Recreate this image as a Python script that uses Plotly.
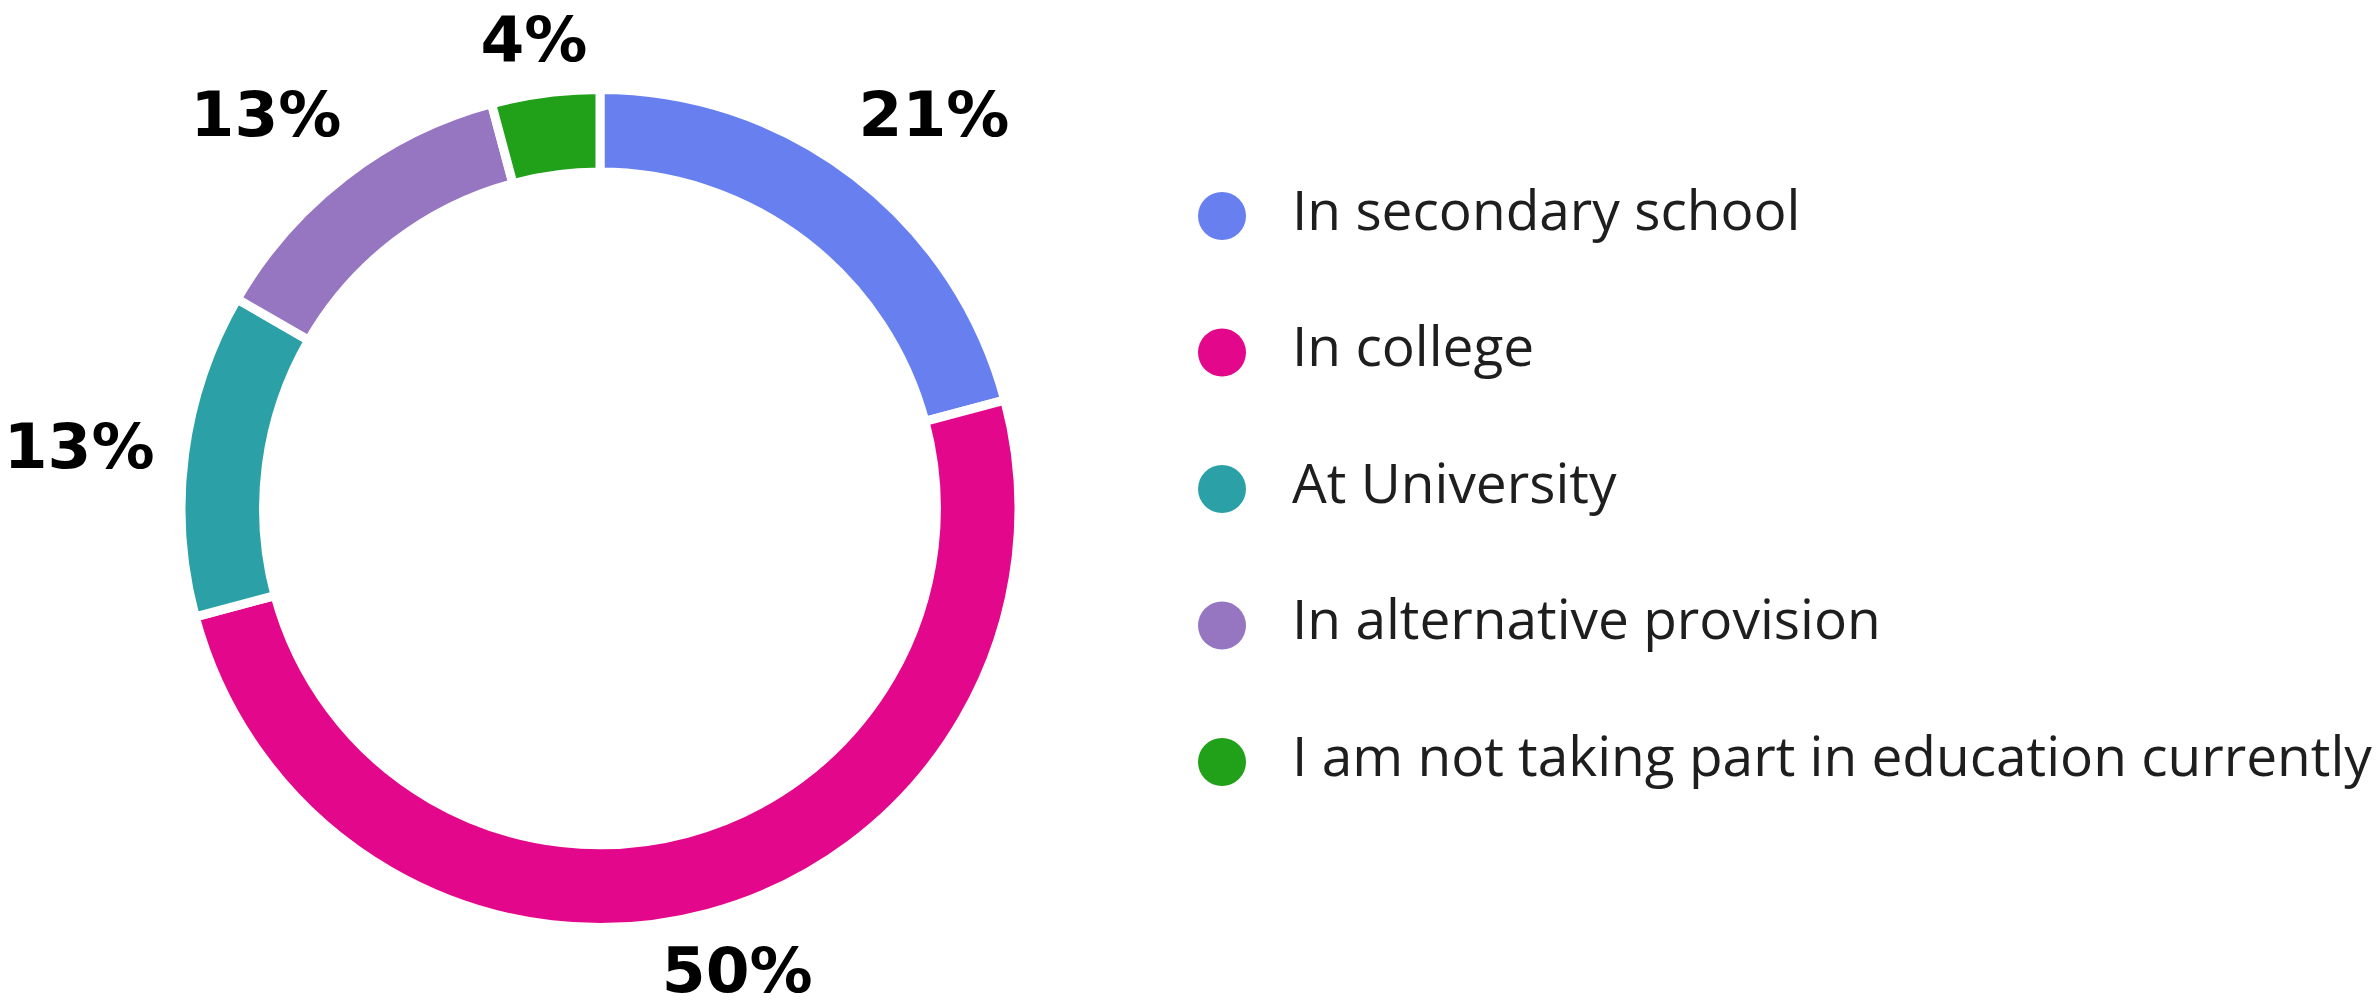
"""
Donut chart: current education status of respondents
"""

import math
import plotly.graph_objects as go

# Data
categories = [
    "In secondary school",
    "In college",
    "At University",
    "In alternative provision",
    "I am not taking part in education currently",
]
counts = [5, 12, 3, 3, 1]
colors = ["#6880EF", "#E3088B", "#2CA0A7", "#9676C1", "#21A019"]
rows = [0, 1, 2, 3, 4]

# Figure geometry (px)
W, H = 2380, 1005
cx, cy = 600, 508.5          # donut centre, measured from top-left
r_pie = 419                  # pie radius incl. white stroke
stroke = 9
r_vis = r_pie - stroke / 2   # visible outer edge

# Percent labels, rounded half up
total = sum(counts)
pct_text = [f"{int(100 * c / total + 0.5)}%" for c in counts]

# Label placement: outside the ring along each slice's bisector,
# pushed out by half the label box (more on the diagonals)
label_x, label_y = [], []
start = 0
for c, txt in zip(counts, pct_text):
    mid = math.radians((start + c / 2) / total * 360)
    start += c
    s, co = math.sin(mid), math.cos(mid)
    half_w = 19 + 19 * len(txt)
    half_h = 24
    gap = 33 + 27 * math.sin(2 * mid) ** 2
    label_x.append(cx + (r_vis + gap + half_w) * s)
    label_y.append(cy - (r_vis + gap + half_h) * co + 6)

fig = go.Figure()

# Donut
fig.add_trace(go.Pie(
    labels=categories,
    values=counts,
    sort=False,
    direction="clockwise",
    rotation=0,
    hole=0.803,
    marker=dict(colors=colors, line=dict(color="white", width=stroke)),
    textinfo="none",
    domain=dict(x=[(cx - r_pie) / W, (cx + r_pie) / W],
                y=[(H - cy - r_pie) / H, (H - cy + r_pie) / H]),
    showlegend=False,
    hoverinfo="label+percent",
))

# Percent labels on a pixel-scaled overlay axis
fig.add_trace(go.Scatter(
    x=label_x,
    y=label_y,
    mode="text",
    text=pct_text,
    textposition="middle center",
    textfont=dict(family="DejaVu Sans", size=63, color="black", weight="bold"),
    xaxis="x2", yaxis="y2",
    cliponaxis=False,
    showlegend=False,
    hoverinfo="skip",
))

# Legend drawn as a scatter: dots plus labels
fig.add_trace(go.Scatter(
    x=[0] * len(rows),
    y=rows,
    mode="markers",
    marker=dict(size=48, color=colors),
    showlegend=False,
    hoverinfo="skip",
))
fig.add_trace(go.Scatter(
    x=[70] * len(rows),
    y=rows,
    mode="text",
    text=categories,
    textposition="middle right",
    textfont=dict(family="Open Sans", size=55, color="#1E1E1E"),
    showlegend=False,
    hoverinfo="skip",
    cliponaxis=False,
))

fig.update_layout(
    width=W,
    height=H,
    margin=dict(l=0, r=0, t=0, b=0),
    paper_bgcolor="white",
    plot_bgcolor="rgba(0,0,0,0)",
    xaxis=dict(domain=[0.5, 1.0], range=[-32, 1158], visible=False, fixedrange=True),
    yaxis=dict(domain=[0, 1], range=[5.780, -1.582], visible=False, fixedrange=True),
    xaxis2=dict(domain=[0, 1], range=[0, W], visible=False, fixedrange=True,
                anchor="y2"),
    yaxis2=dict(domain=[0, 1], range=[H, 0], visible=False, fixedrange=True,
                anchor="x2", overlaying="y"),
)

fig.write_html(
    "out.html",
    config={"displayModeBar": False},
    post_script="document.body.style.margin = '0px';",
)
